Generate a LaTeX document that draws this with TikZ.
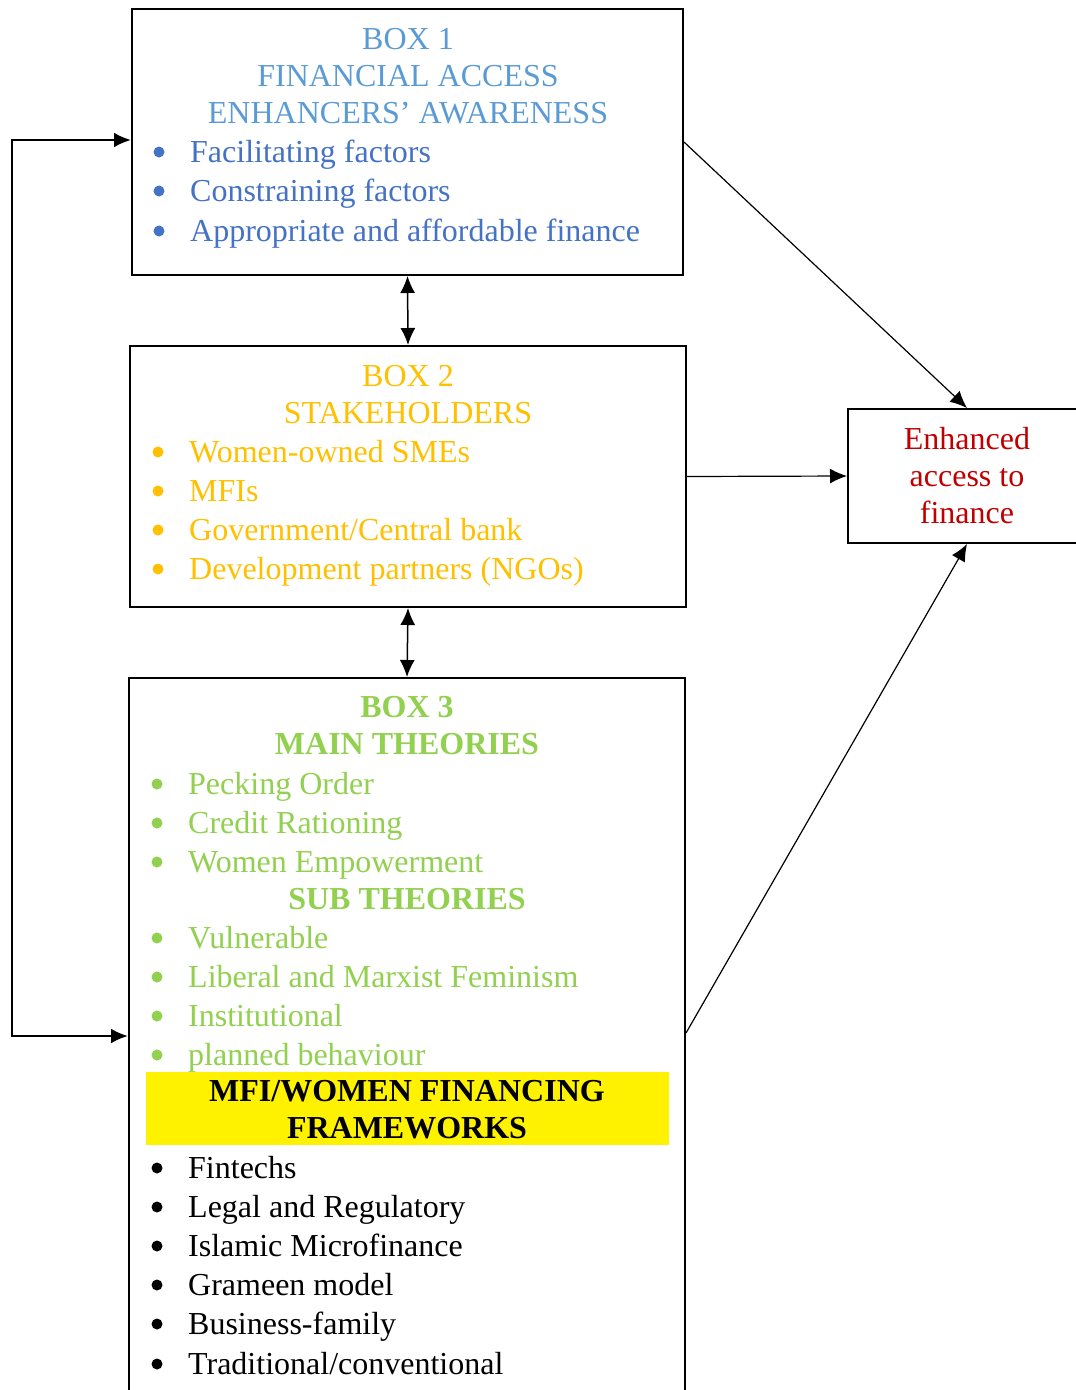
\documentclass[tikz,border=0pt]{standalone}
\usepackage{fontspec}
\setmainfont{Liberation Serif}
\usetikzlibrary{arrows.meta}
\definecolor{hdrblue}{HTML}{5B9BD5}
\definecolor{itemblue}{HTML}{4472C4}
\definecolor{gold}{HTML}{FFC000}
\definecolor{leaf}{HTML}{92D050}
\definecolor{deepred}{HTML}{C00000}
\tikzset{
  frame/.style={draw=black, line width=2pt, inner sep=0pt, fill=white},
  txt/.style={inner sep=0pt, font=\fontsize{32}{38}\selectfont},
  head/.style={txt, anchor=base},
  item/.style={txt, anchor=base west},
  dot/.style={circle, fill, inner sep=0pt, minimum size=11pt, yshift=10pt},
  tip/.style={-{Latex[length=17pt,width=15pt]}},
  twotip/.style={{Latex[length=17pt,width=15pt]}-{Latex[length=17pt,width=15pt]}},
}
\begin{document}
\begin{tikzpicture}[x=1pt, y=-1pt]
\clip (0,0) rectangle (1076,1390);
\fill[white] (0,0) rectangle (1076,1390);

% boxes
\node[frame, minimum width=551pt, minimum height=266pt] (b1) at (407.5,142) {};
\node[frame, minimum width=556pt, minimum height=261pt] (b2) at (408,476.5) {};
\node[frame, minimum width=556pt, minimum height=742pt] (b3) at (407,1049) {};
\node[frame, minimum width=238pt, minimum height=134pt] (en) at (967,476) {};
\node[fill=yellow, inner sep=0pt, minimum width=523pt, minimum height=73pt] (hl) at (407.5,1108.5) {};

% box 1
\begin{scope}[hdrblue]
\node[head] (h1a) at (408,49) {BOX 1};
\node[head] (h1b) at (408,86) {FINANCIAL ACCESS};
\node[head] (h1c) at (408,123) {ENHANCERS’ AWARENESS};
\end{scope}
\begin{scope}[itemblue]
\node[dot] (d1a) at (159,162) {};
\node[dot] (d1b) at (159,201) {};
\node[dot] (d1c) at (159,241) {};
\node[item] (i1a) at (190,162) {Facilitating factors};
\node[item] (i1b) at (190,201) {Constraining factors};
\node[item] (i1c) at (190,241) {Appropriate and affordable finance};
\end{scope}

% box 2
\begin{scope}[gold]
\node[head] (h2a) at (408,386) {BOX 2};
\node[head] (h2b) at (408,423) {STAKEHOLDERS};
\node[dot] (d2a) at (158,462) {};
\node[dot] (d2b) at (158,501) {};
\node[dot] (d2c) at (158,540) {};
\node[dot] (d2d) at (158,579) {};
\node[item] (i2a) at (189,462) {Women-owned SMEs};
\node[item] (i2b) at (189,501) {MFIs};
\node[item] (i2c) at (189,540) {Government/Central bank};
\node[item] (i2d) at (189,579) {Development partners (NGOs)};
\end{scope}

% box 3
\begin{scope}[leaf]
\node[head, font=\fontsize{32}{38}\selectfont\bfseries] (h3a) at (407,717) {BOX 3};
\node[head, font=\fontsize{32}{38}\selectfont\bfseries] (h3b) at (407,754) {MAIN THEORIES};
\node[dot] (d3a) at (157,794) {};
\node[dot] (d3b) at (157,833) {};
\node[dot] (d3c) at (157,872) {};
\node[item] (i3a) at (188,794) {Pecking Order};
\node[item] (i3b) at (188,833) {Credit Rationing};
\node[item] (i3c) at (188,872) {Women Empowerment};
\node[head, font=\fontsize{32}{38}\selectfont\bfseries] (h3c) at (407,909) {SUB THEORIES};
\node[dot] (d3d) at (157,948) {};
\node[dot] (d3e) at (157,987) {};
\node[dot] (d3f) at (157,1026) {};
\node[dot] (d3g) at (157,1065) {};
\node[item] (i3d) at (188,948) {Vulnerable};
\node[item] (i3e) at (188,987) {Liberal and Marxist Feminism};
\node[item] (i3f) at (188,1026) {Institutional};
\node[item] (i3g) at (188,1065) {planned behaviour};
\end{scope}
\node[head, font=\fontsize{32}{38}\selectfont\bfseries] (h3d) at (407,1101) {MFI/WOMEN FINANCING};
\node[head, font=\fontsize{32}{38}\selectfont\bfseries] (h3e) at (407,1138) {FRAMEWORKS};
\node[dot] (d3h) at (157,1178) {};
\node[dot] (d3i) at (157,1217) {};
\node[dot] (d3j) at (157,1256) {};
\node[dot] (d3k) at (157,1295) {};
\node[dot] (d3l) at (157,1334) {};
\node[dot] (d3m) at (157,1374) {};
\node[item] (i3h) at (188,1178) {Fintechs};
\node[item] (i3i) at (188,1217) {Legal and Regulatory};
\node[item] (i3j) at (188,1256) {Islamic Microfinance};
\node[item] (i3k) at (188,1295) {Grameen model};
\node[item] (i3l) at (188,1334) {Business-family};
\node[item] (i3m) at (188,1374) {Traditional/conventional};

% outcome box text
\begin{scope}[deepred]
\node[head] (e1) at (967,449) {Enhanced};
\node[head] (e2) at (967,486) {access to};
\node[head] (e3) at (967,523) {finance};
\end{scope}

% connectors
\draw[twotip, line width=1.5pt] (b1.south) -- (b2.north);
\draw[twotip, line width=1.5pt] (b2.south) -- (b3.north);
\coordinate (lt) at (12,140);
\coordinate (lb) at (12,1036);
\draw[twotip, line width=2.5pt] (b1.west |- lt) -- (lt) -- (lb) -- (b3.west |- lb);
\draw[tip, line width=1.2pt] (b1.east) -- (en.north);
\draw[tip, line width=1.2pt] (b2.east) -- (en.west);
\coordinate (b3r) at (686,1033);
\draw[tip, line width=1.2pt] (b3r) -- (en.south);
\end{tikzpicture}
\end{document}
